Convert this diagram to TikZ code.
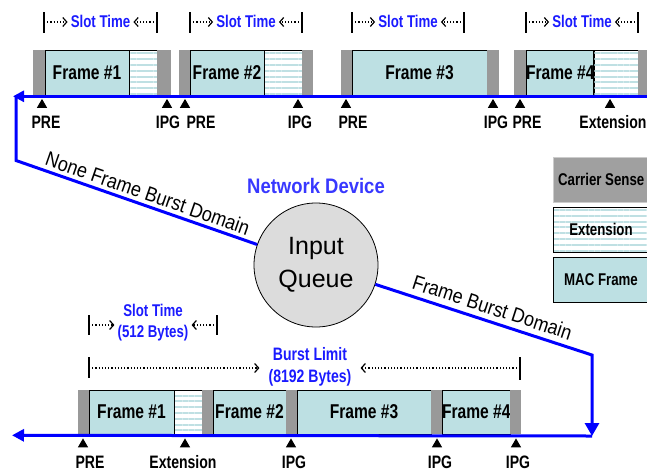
\documentclass[tikz,border=0pt]{standalone}
\usepackage{fontspec}
\setmainfont{Liberation Sans}
\newfontfamily\narrowsf{Liberation Sans}[FakeStretch=0.78]
\newfontfamily\midsf{Liberation Sans}[FakeStretch=0.88]
\usetikzlibrary{arrows.meta,
	calc,
	patterns.meta,
	shapes.geometric}
\definecolor{csgray}{HTML}{999999}
\definecolor{legendgray}{HTML}{A0A0A0}
\definecolor{legendedge}{HTML}{CCCCCC}
\definecolor{macblue}{HTML}{BDE0E3}
\definecolor{stripe}{HTML}{BFE0E3}
\definecolor{lineblue}{HTML}{0000FF}
\definecolor{slotblue}{HTML}{1A1AFF}
\definecolor{netblue}{HTML}{3838FF}
\definecolor{queuegray}{HTML}{DCDCDC}

\begin{document}
\begin{tikzpicture}[x=1pt,y=-1pt,>={Straight Barb[length=4pt,width=9pt]}]
    \tikzstyle{cs}=[fill=csgray,inner sep=0pt,outer sep=0pt]
    \tikzstyle{frm}=[fill=macblue,draw=black,line width=0.8pt,inner sep=0pt,outer sep=0pt,font=\narrowsf\bfseries\fontsize{20}{24}\selectfont]
    \tikzstyle{ext}=[draw=black,line width=0.8pt,pattern={Lines[angle=0,distance=5.8pt,line width=2pt]},pattern color=stripe,inner sep=0pt,outer sep=0pt]
    \tikzstyle{tri}=[regular polygon,regular polygon sides=3,fill=black,minimum size=12pt,inner sep=0pt,anchor=corner 1]
    \tikzstyle{lbl}=[font=\narrowsf\bfseries\fontsize{18}{20}\selectfont,inner sep=0pt]
    \tikzstyle{slot}=[text=slotblue,font=\narrowsf\bfseries\fontsize{17}{21}\selectfont,align=center,inner sep=1pt]
    \tikzstyle{bar}=[line width=1.8pt]
    \tikzstyle{dots}=[dotted,line width=1.2pt,->,shorten >=2pt]
    \tikzstyle{bline}=[draw=lineblue,line width=3pt]
    \tikzstyle{lnlbl}=[font=\midsf\fontsize{20.5}{24}\selectfont,sloped]
    \tikzstyle{legend}=[anchor=north west,minimum width=96pt,minimum height=45pt,inner sep=0pt,font=\narrowsf\bfseries\fontsize{17}{20}\selectfont]

    \path[use as bounding box,clip] (0,0) rectangle (647,471);

    % top row: no frame burst
    \foreach \x/\w/\s/\t [count=\i] in {33/12/cs/,45/84/frm/Frame \#1,129/28/ext/,157/14/cs/,
      179/11/cs/,190/74/frm/Frame \#2,264/38/ext/,302/11/cs/,
      341/11/cs/,352/135/frm/Frame \#3,487/12/cs/,
      514/12/cs/,526/67/frm/Frame \#4,593/45/ext/,638/12/cs/}
      \node[\s,anchor=south west,minimum width=\w pt,minimum height=45pt] (top\i) at (\x,95) {\t};

    \foreach \l/\r [count=\i] in {44/157,190/302,352/464,526/638}{
      \coordinate (sl\i) at (\l,22);
      \coordinate (sr\i) at (\r,22);
      \draw[bar] (\l,12) -- (\l,33) (\r,12) -- (\r,33);
      \node[slot] (st\i) at ($(sl\i)!0.5!(sr\i)+(0,-1)$) {Slot Time};
      \draw[dots] (sl\i) -- (sl\i -| st\i.west);
      \draw[dots] (sr\i) -- (sr\i -| st\i.east);
    }

    % bottom row: frame burst
    \foreach \x/\w/\s/\t [count=\i] in {78/11/cs/,89/85/frm/Frame \#1,174/28/ext/,202/11/cs/,
      213/73/frm/Frame \#2,286/11/cs/,297/134/frm/Frame \#3,431/11/cs/,
      442/68/frm/Frame \#4,510/11/cs/}
      \node[\s,anchor=south west,minimum width=\w pt,minimum height=44pt] (bot\i) at (\x,434) {\t};

    \coordinate (bsl) at (89,325);
    \coordinate (bsr) at (217,325);
    \draw[bar] (89,315) -- (89,335) (217,315) -- (217,335);
    \node[slot] (slotb) at (153,322.5) {Slot Time\\(512 Bytes)};
    \draw[dots] (bsl) -- (bsl -| slotb.west);
    \draw[dots] (bsr) -- (bsr -| slotb.east);

    \coordinate (bll) at (89,368);
    \coordinate (blr) at (520,368);
    \draw[bar] (89,357) -- (89,378) (520,357) -- (520,380);
    \node[slot,font=\narrowsf\bfseries\fontsize{18}{22}\selectfont] (burst) at (310,367) {Burst Limit\\(8192 Bytes)};
    \draw[dots,shorten >=8pt] (bll) -- (bll -| burst.west);
    \draw[dots,shorten >=8pt] (blr) -- (blr -| burst.east);

    % legend
    \node[legend,fill=legendgray,draw=legendedge] (lgcs) at (553,157) {Carrier Sense};
    \node[ext,legend] (lgext) at (553,207) {Extension};
    \node[frm,legend] (lgmac) at (553,257) {MAC Frame};

    % device
    \node[text=netblue,font=\midsf\bfseries\fontsize{21}{24}\selectfont] (netdev) at (316,186) {Network Device};
    \node[circle,draw=black,line width=0.8pt,fill=queuegray,minimum size=124pt,align=center,
      font=\fontsize{25}{33}\selectfont] (queue) at (316,265) {Input\\Queue};

    \coordinate (topR) at (650,96.3);
    \coordinate (topL) at (13,96.3);
    \coordinate (nbc) at (16,160.5);
    \coordinate (nbtop) at (16,96.3);
    \coordinate (fbc) at (592,355);
    \coordinate (fbdrop) at (592,436);
    \coordinate (botL) at (12,435.3);
    \draw[bline,-{Triangle[length=11pt,width=11pt]}] (topR) -- (topL);
    \draw[bline] (queue) -- node[lnlbl,above,pos=0.47] (nbtext) {None Frame Burst Domain} (nbc) -- (nbtop);
    \draw[bline,-{Triangle[length=13pt,width=14pt]}] (queue) -- node[lnlbl,above=2pt,pos=0.52] (fbtext) {Frame Burst Domain} (fbc) -- (fbdrop);
    \draw[bline,-{Triangle[length=12pt,width=12pt]}] (fbdrop) -- (botL);

    % markers
    \foreach \x/\lx/\t [count=\i] in {42/46/PRE,167/168/IPG,185/201/PRE,298/300/IPG,
      346/353/PRE,493/496/IPG,520/527/PRE,610/613/Extension}{
      \node[tri] (ptop\i) at (\x,98.5) {};
      \node[lbl] (ltop\i) at (\lx,122) {\t};
    }
    \foreach \x/\lx/\t [count=\i] in {83/90/PRE,185/183/Extension,291/294/IPG,437/440/IPG,516/518/IPG}{
      \node[tri] (pbot\i) at (\x,438) {};
      \node[lbl] (lbot\i) at (\lx,462) {\t};
    }
\end{tikzpicture}
\end{document}
